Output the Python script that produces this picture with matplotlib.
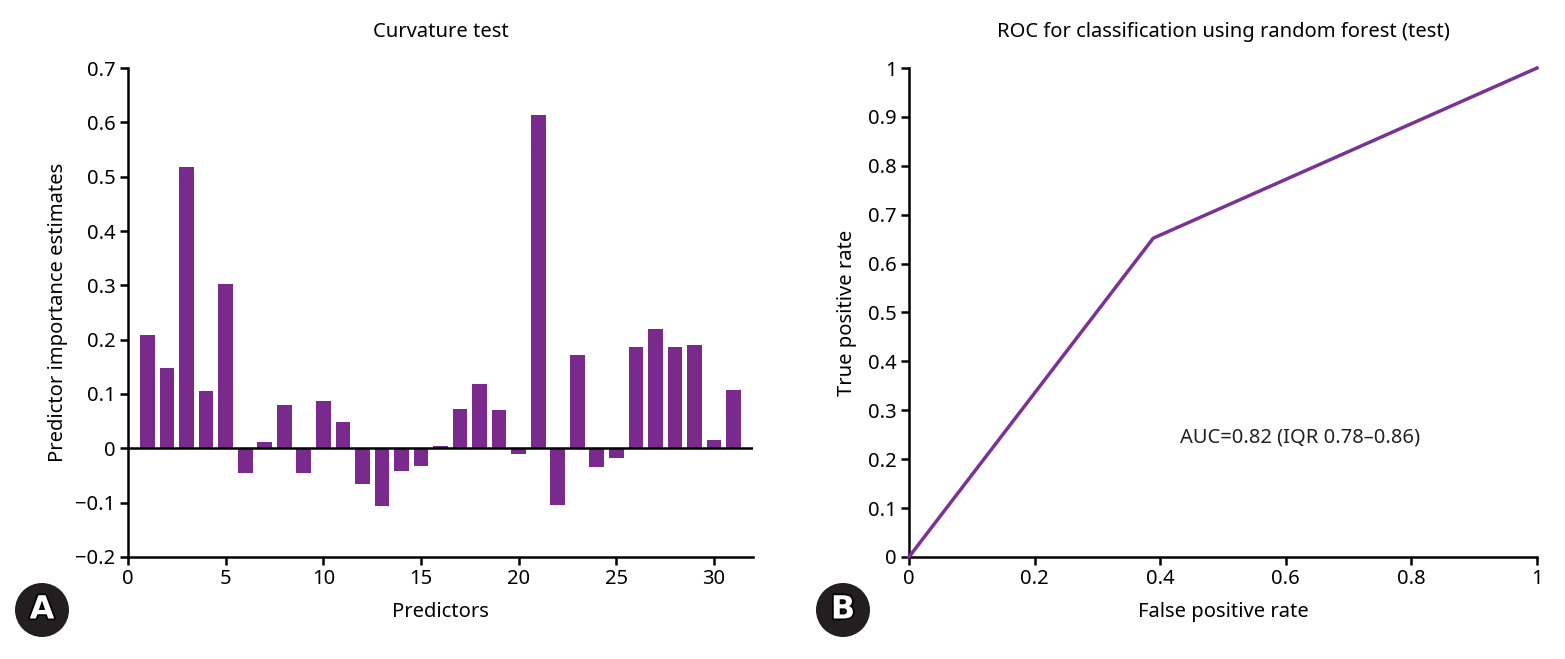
import matplotlib
matplotlib.use("Agg")
import matplotlib.pyplot as plt
import matplotlib.patheffects as pe

plt.rcParams['font.family'] = ['Noto Sans', 'DejaVu Sans']

predictors = list(range(1, 32))
importance = [0.209, 0.147, 0.517, 0.105, 0.303, -0.046, 0.012, 0.079, -0.046, 0.088,
              0.048, -0.066, -0.106, -0.042, -0.032, 0.005, 0.073, 0.118, 0.071, -0.011,
              0.614, -0.104, 0.171, -0.035, -0.018, 0.186, 0.219, 0.186, 0.190, 0.016, 0.107]

fpr = [0.0, 0.389, 1.0]
tpr = [0.0, 0.652, 1.0]

left_title = "Curvature test"
right_title = "ROC for classification using random forest (test)"
auc_text = "AUC=0.82 (IQR 0.78\u20130.86)"

purple = "#7a2a8c"
line_purple = "#7b3294"
fs = 14.5

fig = plt.figure(figsize=(15.65, 6.59), dpi=100)
ax1 = fig.add_axes([0.0818, 0.1548, 0.3994, 0.742])
ax2 = fig.add_axes([0.5808, 0.1548, 0.4013, 0.742])

ax1.bar(predictors, importance, width=0.75, color=purple)
ax1.axhline(0, color="black", lw=1.8, zorder=3)
ax1.set_xlim(0, 32)
ax1.set_ylim(-0.2, 0.7)
ax1.set_xticks([0, 5, 10, 15, 20, 25, 30])
ax1.set_yticks([-0.2, -0.1, 0, 0.1, 0.2, 0.3, 0.4, 0.5, 0.6, 0.7])
ax1.set_yticklabels(["\u22120.2", "\u22120.1", "0", "0.1", "0.2", "0.3", "0.4", "0.5", "0.6", "0.7"])
ax1.set_xlabel("Predictors", fontsize=fs, labelpad=9)
ax1.set_ylabel("Predictor importance estimates", fontsize=fs, labelpad=5)
ax1.set_title(left_title, fontsize=fs, pad=22)

ax2.plot(fpr, tpr, color=line_purple, lw=2.5, clip_on=False, zorder=3)
ax2.set_xlim(0, 1)
ax2.set_ylim(0, 1)
ax2.set_xticks([0, 0.2, 0.4, 0.6, 0.8, 1])
ax2.set_xticklabels(["0", "0.2", "0.4", "0.6", "0.8", "1"])
ax2.set_yticks([0, 0.1, 0.2, 0.3, 0.4, 0.5, 0.6, 0.7, 0.8, 0.9, 1])
ax2.set_yticklabels(["0", "0.1", "0.2", "0.3", "0.4", "0.5", "0.6", "0.7", "0.8", "0.9", "1"])
ax2.set_xlabel("False positive rate", fontsize=fs, labelpad=9)
ax2.set_ylabel("True positive rate", fontsize=fs, labelpad=8)
ax2.set_title(right_title, fontsize=fs, pad=22)
ax2.text(0.623, 0.245, auc_text, fontsize=fs, ha="center", va="center", color="#222222")

for ax in (ax1, ax2):
    for s in ("top", "right"):
        ax.spines[s].set_visible(False)
    for s in ("left", "bottom"):
        ax.spines[s].set_linewidth(1.8)
    ax.tick_params(direction="out", length=6, width=1.8, labelsize=fs, pad=3, colors="black")

for x, lab in [(42 / 1565, "A"), (843 / 1565, "B")]:
    fig.text(x, 1 - 610 / 659, lab, fontsize=23, fontweight="bold", color="white",
             family="DejaVu Sans", ha="center", va="center",
             bbox=dict(boxstyle="circle,pad=0.36", fc="#231f20", ec="none"),
             path_effects=[pe.withStroke(linewidth=2.5, foreground="black")])

fig.savefig("out.png", dpi=100)
